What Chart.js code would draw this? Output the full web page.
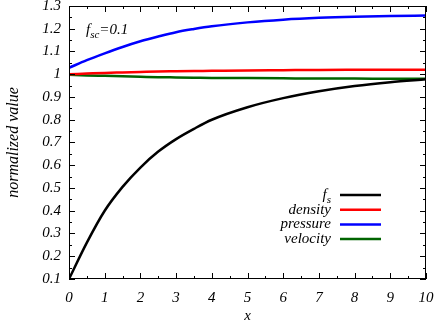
<!DOCTYPE html>
<html>
<head>
<meta charset="utf-8">
<script src="https://cdn.jsdelivr.net/npm/chart.js@4/dist/chart.umd.min.js"></script>
<style>
  html, body { margin: 0; padding: 0; background: #fff; }
</style>
</head>
<body>
<canvas id="grafico" width="436" height="321"></canvas>
<script>
// datos
var xs       = [0, 0.5, 1, 1.5, 2, 2.5, 3, 3.5, 4, 5, 6, 7, 8, 9, 10];
var fS       = [0.10, 0.26, 0.40, 0.505, 0.59, 0.66, 0.715, 0.76, 0.80, 0.855, 0.895, 0.925, 0.948, 0.965, 0.978];
var density  = [1.000, 1.003, 1.006, 1.008, 1.010, 1.012, 1.013, 1.014, 1.015, 1.017, 1.018, 1.019, 1.0195, 1.020, 1.020];
var pressure = [1.028, 1.062, 1.092, 1.120, 1.145, 1.166, 1.185, 1.199, 1.211, 1.228, 1.240, 1.248, 1.253, 1.256, 1.258];
var velocity = [0.998, 0.995, 0.993, 0.991, 0.989, 0.987, 0.986, 0.985, 0.984, 0.983, 0.982, 0.981, 0.981, 0.980, 0.980];
var etiquetas = ['f_s', 'density', 'pressure', 'velocity'];
var colores   = ['#000000', '#ff0000', '#0000ff', '#006400'];
var anotacion = 'f_sc=0.1';

var FUENTE = '"Liberation Serif", "Times New Roman", serif';

function puntos(ys) {
  return xs.map(function (x, i) { return { x: x, y: ys[i] }; });
}

// texto con subindice tipo "f_s"
function textoSub(ctx, txt, x, y, size, align) {
  var partes = txt.split('_');
  var base = partes[0], sub = partes[1] || '';
  var resto = '';
  var m = sub.match(/^([a-z]+)(.*)$/);
  if (m) { sub = m[1]; resto = m[2]; }
  ctx.font = 'italic ' + size + 'px ' + FUENTE;
  var wb = ctx.measureText(base).width;
  var wr = ctx.measureText(resto).width;
  ctx.font = 'italic ' + Math.round(size * 0.72) + 'px ' + FUENTE;
  var ws = sub ? ctx.measureText(sub).width : 0;
  var total = wb + ws + wr;
  var x0 = align === 'right' ? x - total : x;
  ctx.textAlign = 'left';
  ctx.textBaseline = 'alphabetic';
  ctx.font = 'italic ' + size + 'px ' + FUENTE;
  ctx.fillText(base, x0, y);
  if (sub) {
    ctx.font = 'italic ' + Math.round(size * 0.72) + 'px ' + FUENTE;
    ctx.fillText(sub, x0 + wb, y + size * 0.25);
  }
  ctx.font = 'italic ' + size + 'px ' + FUENTE;
  ctx.fillText(resto, x0 + wb + ws, y);
}

var marco = {
  id: 'marco',
  afterDatasetsDraw: function (chart) {
    var ctx = chart.ctx, a = chart.chartArea;
    var sx = chart.scales.x, sy = chart.scales.y;
    ctx.save();
    ctx.strokeStyle = '#000';
    ctx.lineWidth = 1;
    ctx.strokeRect(a.left + 0.5, a.top + 0.5, a.right - a.left - 1, a.bottom - a.top - 1);
    ctx.beginPath();
    // ticks hacia dentro, los cuatro lados
    for (var k = 0; k <= 20; k++) {
      var px = Math.round(sx.getPixelForValue(k * 0.5)) + 0.5;
      var l = k % 2 === 0 ? 6 : 3;
      ctx.moveTo(px, a.bottom); ctx.lineTo(px, a.bottom - l);
      ctx.moveTo(px, a.top); ctx.lineTo(px, a.top + l);
    }
    for (var j = 0; j <= 24; j++) {
      var py = Math.round(sy.getPixelForValue(0.1 + j * 0.05)) + 0.5;
      var ly = j % 2 === 0 ? 6 : 3;
      ctx.moveTo(a.left, py); ctx.lineTo(a.left + ly, py);
      ctx.moveTo(a.right, py); ctx.lineTo(a.right - ly, py);
    }
    ctx.stroke();

    // anotacion
    ctx.fillStyle = '#000';
    textoSub(ctx, anotacion, a.left + 17, a.top + 28, 15, 'left');

    // leyenda
    chart.data.datasets.forEach(function (ds, i) {
      var y = a.top + 189 + i * 14.7;
      ctx.fillStyle = '#000';
      textoSub(ctx, ds.label, a.right - 95, y + 4, 15, 'right');
      ctx.strokeStyle = ds.borderColor;
      ctx.lineWidth = 2.5;
      ctx.beginPath();
      ctx.moveTo(a.right - 86, y);
      ctx.lineTo(a.right - 45, y);
      ctx.stroke();
    });
    ctx.restore();
  }
};

var series = [fS, density, pressure, velocity];
var idhtml = document.getElementById('grafico').getContext('2d');
var grafico = new Chart(idhtml, {
  type: 'line',
  data: {
    datasets: series.map(function (s, i) {
      return {
        label: etiquetas[i],
        data: puntos(s),
        borderColor: colores[i],
        backgroundColor: colores[i],
        borderWidth: 2.5,
        pointRadius: 0,
        cubicInterpolationMode: 'monotone',
        fill: false
      };
    })
  },
  options: {
    responsive: false,
    animation: false,
    devicePixelRatio: 1,
    layout: { padding: { top: 6, right: 10, left: 0, bottom: 0 } },
    plugins: { legend: { display: false }, tooltip: { enabled: false } },
    scales: {
      x: {
        type: 'linear',
        min: 0, max: 10,
        grid: { display: false, drawTicks: false },
        border: { display: false },
        ticks: { stepSize: 1, color: '#000', padding: 10, font: { family: FUENTE, size: 15, style: 'italic' } },
        title: { display: true, text: 'x', color: '#000', padding: { top: 0, bottom: 0 }, font: { family: FUENTE, size: 15, style: 'italic', lineHeight: 0.6 } },
        afterFit: function (s) { s.height = 42; s.paddingLeft = 0; s.paddingRight = 0; }
      },
      y: {
        min: 0.1, max: 1.3,
        grid: { display: false, drawTicks: false },
        border: { display: false },
        ticks: {
          stepSize: 0.1, color: '#000', padding: 8,
          font: { family: FUENTE, size: 15, style: 'italic' },
          callback: function (v) { return String(+v.toFixed(1)); }
        },
        title: { display: true, text: 'normalized value', color: '#000', padding: { top: 4, bottom: 0 }, font: { family: FUENTE, size: 16, style: 'italic' } },
        afterFit: function (s) { s.width = 69; s.paddingTop = 0; s.paddingBottom = 0; }
      }
    }
  },
  plugins: [marco]
});
</script>
</body>
</html>
